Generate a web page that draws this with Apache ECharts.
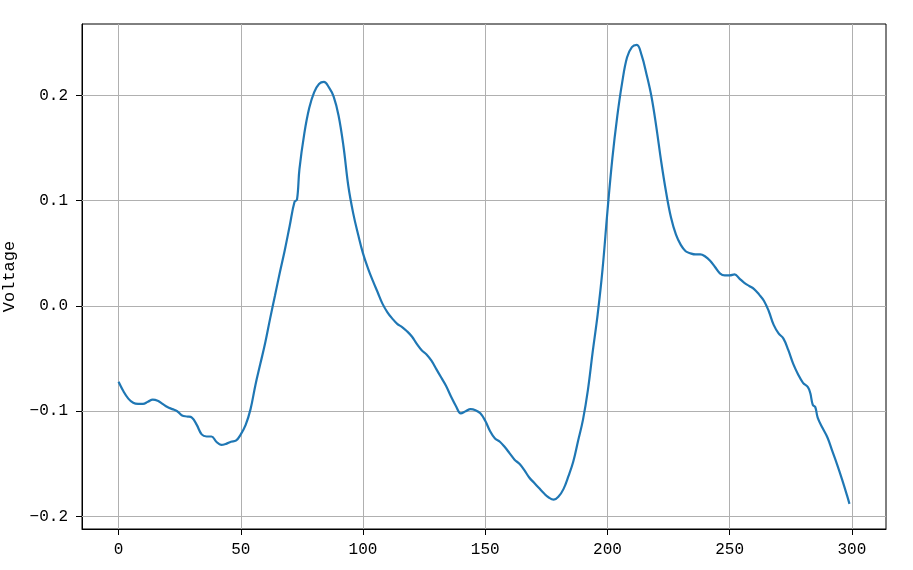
<!DOCTYPE html>
<html>
<head>
<meta charset="utf-8">
<script src="https://cdn.jsdelivr.net/npm/echarts@6/dist/echarts.min.js"></script>
<style>html,body{margin:0;padding:0;background:#fff;}#c{width:913px;height:570px;}</style>
</head>
<body>
<div id="c"></div>
<script>
const xValues = [0,2,4,6,8,10,12,14,16,18,20,22,24,26,28,30,32,34,36,38,40,42,44,46,48,50,52,54,56,58,60,62,64,66,68,70,72,73,74,76,78,80,82,84,86,88,90,92,94,96,98,100,102,104,106,108,110,112,114,116,118,120,122,124,126,128,130,132,134,136,138,140,142,144,146,148,150,152,154,156,158,160,162,164,166,168,170,172,174,176,178,180,182,184,186,188,190,192,194,196,198,200,202,204,206,208,210,212,214,216,218,220,222,224,226,228,230,232,234,236,238,240,242,244,246,248,250,252,254,256,258,260,262,264,266,268,270,272,274,276,278,280,282,283,284,285,286,288,290,292,294,296,298,299];
const voltage = [-0.072,-0.081,-0.088,-0.092,-0.093,-0.093,-0.091,-0.089,-0.090,-0.093,-0.096,-0.098,-0.100,-0.104,-0.105,-0.106,-0.113,-0.122,-0.124,-0.124,-0.129,-0.132,-0.131,-0.129,-0.128,-0.122,-0.113,-0.098,-0.075,-0.055,-0.035,-0.012,0.010,0.032,0.053,0.076,0.099,0.101,0.130,0.164,0.188,0.203,0.211,0.213,0.208,0.199,0.181,0.152,0.114,0.088,0.068,0.050,0.036,0.024,0.013,0.002,-0.006,-0.012,-0.017,-0.020,-0.024,-0.029,-0.036,-0.042,-0.046,-0.052,-0.060,-0.068,-0.076,-0.086,-0.095,-0.102,-0.100,-0.098,-0.099,-0.102,-0.109,-0.119,-0.126,-0.129,-0.134,-0.140,-0.146,-0.150,-0.156,-0.163,-0.168,-0.173,-0.178,-0.182,-0.184,-0.181,-0.174,-0.162,-0.148,-0.128,-0.108,-0.080,-0.043,-0.008,0.035,0.090,0.140,0.180,0.212,0.236,0.246,0.248,0.238,0.220,0.199,0.170,0.137,0.108,0.084,0.068,0.058,0.052,0.050,0.049,0.049,0.047,0.043,0.037,0.031,0.029,0.029,0.030,0.026,0.022,0.019,0.016,0.011,0.005,-0.005,-0.018,-0.026,-0.031,-0.042,-0.055,-0.065,-0.073,-0.077,-0.083,-0.094,-0.096,-0.106,-0.116,-0.125,-0.138,-0.151,-0.165,-0.180,-0.188];
const xTicks = [0,50,100,150,200,250,300];
const yTicks = [-0.2,-0.1,0.0,0.1,0.2];
const yLabel = 'Voltage';

const FONT = '"Liberation Mono", "DejaVu Sans Mono", monospace';
const chart = echarts.init(document.getElementById('c'), null, {renderer:'canvas'});
const data = xValues.map((x,i)=>[x, voltage[i]]);
const gridStyle = {color:'#b0b0b0', width:1, type:'solid'};
const markData = [];
xTicks.forEach(v=>markData.push({xAxis:v}));
yTicks.forEach(v=>markData.push({yAxis:v}));
function fmt(v){ return (v<0?'\u2212':'') + Math.abs(v).toFixed(1); }
chart.setOption({
  animation:false,
  backgroundColor:'#fff',
  grid:{left:82, right:27, top:24, bottom:41, show:true, borderColor:'#000', borderWidth:1, backgroundColor:'transparent', containLabel:false, outerBoundsMode:'none'},
  xAxis:{type:'value', min:-14.95, max:313.95,
    axisLine:{show:true, onZero:false, lineStyle:{color:'#000', width:1}},
    axisTick:{show:true, inside:false, length:6, lineStyle:{color:'#000'}, customValues:xTicks},
    axisLabel:{color:'#000', fontSize:16, fontFamily:FONT, margin:13, customValues:xTicks, formatter:v=>String(v)},
    splitLine:{show:false}},
  yAxis:{type:'value', min:-0.2119, max:0.2679,
    name:yLabel, nameLocation:'middle', nameGap:64, nameRotate:90,
    nameTextStyle:{color:'#000', fontSize:17, fontFamily:FONT},
    axisLine:{show:true, onZero:false, lineStyle:{color:'#000', width:1}},
    axisTick:{show:true, inside:false, length:6, lineStyle:{color:'#000'}, customValues:yTicks},
    axisLabel:{color:'#000', fontSize:16, fontFamily:FONT, margin:14, customValues:yTicks, formatter:fmt},
    splitLine:{show:false}},
  series:[{type:'line', data:data, smooth:0.4, showSymbol:false, symbol:'none',
    lineStyle:{color:'#1f77b4', width:2.2}, z:3,
    markLine:{silent:true, symbol:['none','none'], label:{show:false}, lineStyle:gridStyle, data:markData, z:1, animation:false}}]
});
</script>
</body>
</html>
